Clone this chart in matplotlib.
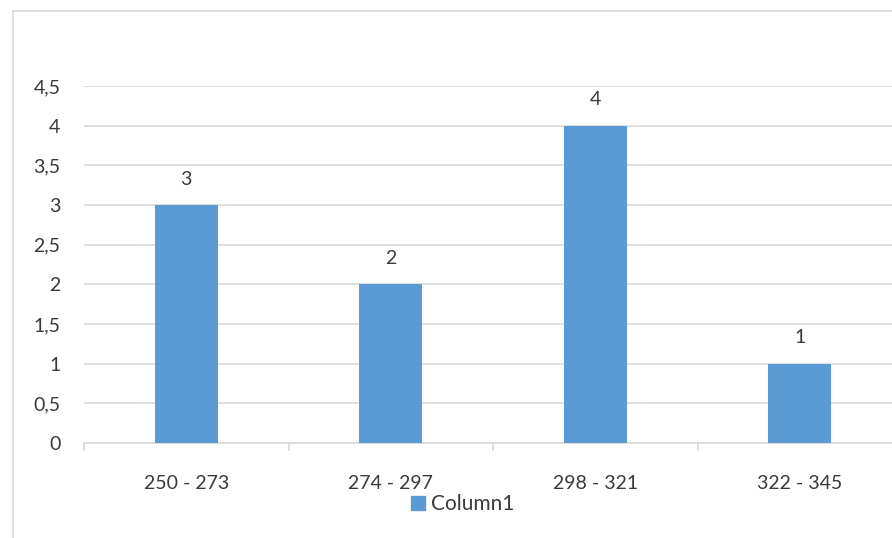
import matplotlib
matplotlib.use("Agg")
import matplotlib.pyplot as plt
from matplotlib.lines import Line2D
from matplotlib.ticker import FixedLocator, FuncFormatter

plt.rcParams['font.family'] = ['Lato', 'DejaVu Sans']

categories = ["250 - 273", "274 - 297", "298 - 321", "322 - 345"]
values = [3, 2, 4, 1]
series_name = "Column1"
y_ticks = [0, 0.5, 1, 1.5, 2, 2.5, 3, 3.5, 4, 4.5]

bar_color = "#5B9BD5"
grid_color = "#D9D9D9"
text_color = "#3A3A3A"
fs = 14

W, H = 892, 538
fig = plt.figure(figsize=(W / 100, H / 100), dpi=100)

# chart frame
fig.add_artist(Line2D([13 / W, 13 / W], [1 - 11 / H, 0], transform=fig.transFigure,
                      color=grid_color, lw=1.2))
fig.add_artist(Line2D([13 / W, 1], [1 - 11 / H, 1 - 11 / H], transform=fig.transFigure,
                      color=grid_color, lw=1.2))

left, right = 84 / W, 902 / W
bottom, top = 1 - 443 / H, 1 - 86 / H
ax = fig.add_axes([left, bottom, right - left, top - bottom])

x = list(range(len(categories)))
ax.bar(x, values, width=0.31, color=bar_color, zorder=3)
for xi, v in zip(x, values):
    ax.text(xi, v + 0.22, f"{v}", ha="center", va="bottom", fontsize=fs, color=text_color)

ax.set_xlim(-0.5, len(categories) - 0.5)
ax.set_ylim(0, 4.5)
ax.set_yticks(y_ticks)
ax.yaxis.set_major_formatter(FuncFormatter(lambda v, p: f"{v:g}".replace(".", ",")))
ax.tick_params(axis="y", length=0, pad=17, labelsize=fs, labelcolor=text_color)
ax.grid(axis="y", color=grid_color, lw=1.2, zorder=0)

# category boundaries as major ticks, labels on minor ticks
ax.xaxis.set_major_locator(FixedLocator([i - 0.5 for i in range(len(categories) + 1)]))
ax.xaxis.set_major_formatter(FuncFormatter(lambda v, p: ""))
ax.xaxis.set_minor_locator(FixedLocator(x))
ax.set_xticklabels(categories, minor=True)
ax.tick_params(axis="x", which="major", length=6, width=1.2, color=grid_color)
ax.tick_params(axis="x", which="minor", length=0, pad=23, labelsize=fs, labelcolor=text_color)

for s in ["top", "right", "left"]:
    ax.spines[s].set_visible(False)
ax.spines["bottom"].set_color(grid_color)
ax.spines["bottom"].set_linewidth(1.2)

handle = plt.Rectangle((0, 0), 1, 1, color=bar_color)
fig.legend([handle], [series_name], loc="center", bbox_to_anchor=(463 / W, 1 - 504 / H),
           frameon=False, fontsize=15, handlelength=0.65, handleheight=0.65,
           handletextpad=0.3, labelcolor=text_color)

fig.savefig("out.png", dpi=100)
